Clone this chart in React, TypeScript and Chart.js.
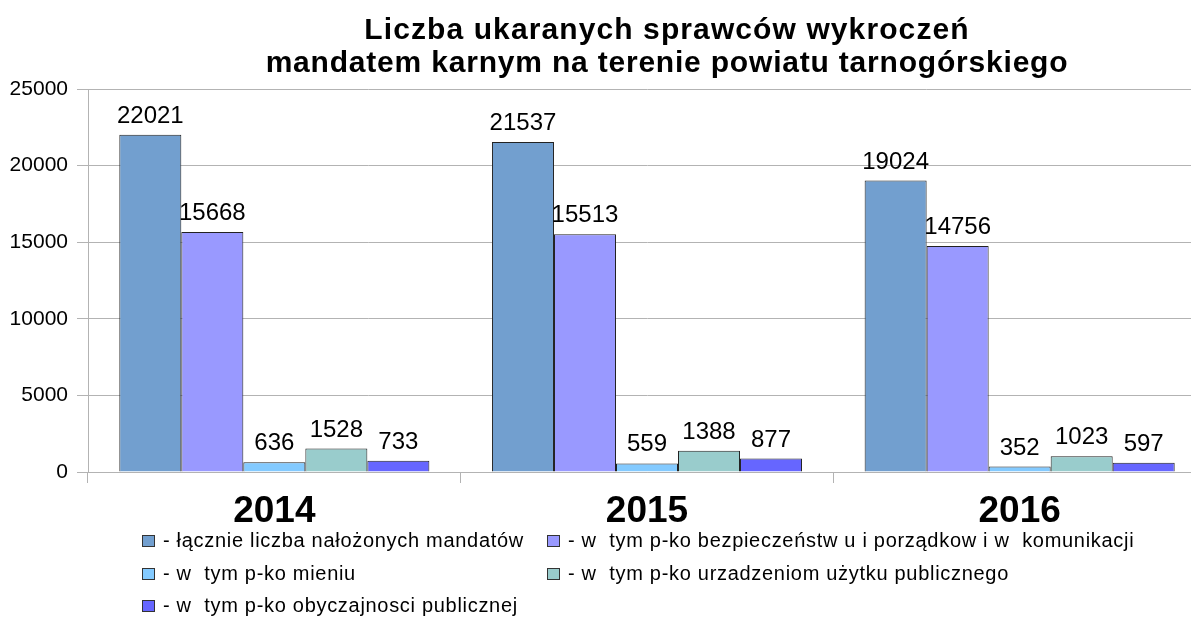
import React, { useEffect, useRef } from "react";
import { Chart, registerables } from "chart.js";

Chart.register(...registerables);

const categories = ["2014", "2015", "2016"];
const seriesLabels = [
  "- łącznie liczba nałożonych mandatów",
  "- w  tym p-ko bezpieczeństw u i porządkow i w  komunikacji",
  "- w  tym p-ko mieniu",
  "- w  tym p-ko urzadzeniom użytku publicznego",
  "- w  tym p-ko obyczajnosci publicznej",
];
const totalFines = [22021, 21537, 19024];
const trafficFines = [15668, 15513, 14756];
const propertyFines = [636, 559, 352];
const publicUtilityFines = [1528, 1388, 1023];
const decencyFines = [733, 877, 597];
const seriesColors = ["#729fcf", "#9999ff", "#83caff", "#99cccc", "#6666ff"];
const yTicks = [0, 5000, 10000, 15000, 20000, 25000];
const titleLines = [
  "Liczba ukaranych sprawców wykroczeń",
  "mandatem karnym na terenie powiatu tarnogórskiego",
];

const FONT = "'Liberation Sans', Arial, sans-serif";

const titlePlugin = {
  id: "customTitle",
  afterDraw(chart: any) {
    const ctx = chart.ctx;
    ctx.save();
    ctx.font = `bold 30px ${FONT}`;
    ctx.fillStyle = "#000";
    ctx.textAlign = "center";
    ctx.textBaseline = "alphabetic";
    const cx = chart.width / 2;
    const spacing = ["1.1px", "0.8px"];
    titleLines.forEach((line, i) => {
      (ctx as any).letterSpacing = spacing[i];
      ctx.fillText(line, cx, 39 + i * 33);
    });
    ctx.restore();
  },
};

const valueLabels = {
  id: "valueLabels",
  afterDatasetsDraw(chart: any) {
    const ctx = chart.ctx;
    ctx.save();
    ctx.font = `24px ${FONT}`;
    ctx.fillStyle = "#000";
    ctx.textAlign = "center";
    ctx.textBaseline = "alphabetic";
    chart.data.datasets.forEach((ds: any, i: number) => {
      const meta = chart.getDatasetMeta(i);
      meta.data.forEach((bar: any, j: number) => {
        ctx.fillText(String(ds.data[j]), bar.x, bar.y - 12);
      });
    });
    ctx.restore();
  },
};

const gridLegend = {
  id: "gridLegend",
  afterDraw(chart: any) {
    const ctx = chart.ctx;
    const colX = [142, 547];
    const rowY = [541, 574, 606];
    ctx.save();
    ctx.font = `20px ${FONT}`;
    (ctx as any).letterSpacing = "0.7px";
    ctx.textBaseline = "middle";
    ctx.textAlign = "left";
    chart.data.datasets.forEach((ds: any, i: number) => {
      const x = colX[i % 2];
      const y = rowY[Math.floor(i / 2)];
      ctx.fillStyle = ds.backgroundColor;
      ctx.fillRect(x, y - 6, 13, 12);
      ctx.strokeStyle = "#333";
      ctx.lineWidth = 1;
      ctx.strokeRect(x + 0.5, y - 5.5, 12, 11);
      ctx.fillStyle = "#000";
      ctx.fillText(ds.label, x + 21, y);
    });
    ctx.restore();
  },
};

export default function App() {
  const ref = useRef<HTMLCanvasElement>(null);
  useEffect(() => {
    const series = [totalFines, trafficFines, propertyFines, publicUtilityFines, decencyFines];
    const chart = new Chart(ref.current as HTMLCanvasElement, {
      type: "bar",
      data: {
        labels: categories,
        datasets: series.map((d, i) => ({
          label: seriesLabels[i],
          data: d,
          backgroundColor: seriesColors[i],
          borderColor: "#222",
          borderWidth: 1,
          categoryPercentage: 0.832,
          barPercentage: 1,
        })),
      },
      options: {
        responsive: false,
        animation: false,
        layout: { padding: { left: 0, right: 128, top: 89, bottom: 0 } },
        plugins: {
          legend: { display: false },
          tooltip: { enabled: false },
          title: { display: false },
        },
        scales: {
          x: {
            offset: true,
            grid: {
              offset: true,
              drawOnChartArea: false,
              drawTicks: true,
              tickLength: 11,
              color: "#b3b3b3",
            },
            border: { color: "#b3b3b3" },
            ticks: {
              color: "#000",
              font: { family: FONT, size: 37, weight: "bold" },
              padding: 7,
            },
            afterFit: (s: any) => {
              s.height = 145;
            },
          },
          y: {
            min: 0,
            max: 25000,
            afterBuildTicks: (s: any) => {
              s.ticks = yTicks.map((v) => ({ value: v }));
            },
            grid: { color: "#b3b3b3", tickLength: 11, drawTicks: true },
            border: { color: "#b3b3b3" },
            ticks: {
              color: "#000",
              font: { family: FONT, size: 21 },
              padding: 9,
              callback: (v: any) => String(v),
            },
            afterFit: (s: any) => {
              s.width = 88;
            },
          },
        },
      },
      plugins: [titlePlugin, valueLabels, gridLegend],
    });
    return () => chart.destroy();
  }, []);
  return (
    <div style={{ position: "fixed", left: 0, top: 0, width: 1334, height: 617, background: "#fff" }}>
      <canvas ref={ref} width={1334} height={617} style={{ width: 1334, height: 617 }} />
    </div>
  );
}
